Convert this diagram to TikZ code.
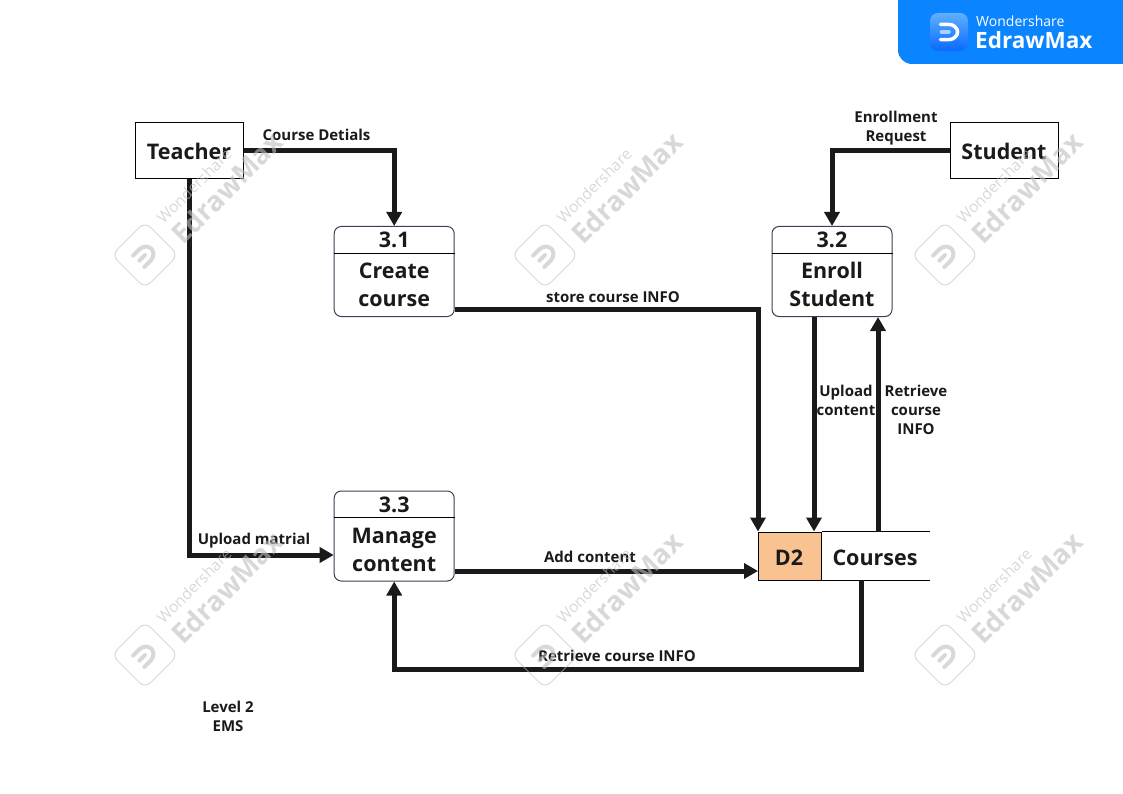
\documentclass[tikz,border=0pt]{standalone}
\usepackage{fontspec}
\setmainfont{Open Sans}
\usetikzlibrary{arrows.meta,positioning}
\definecolor{inkc}{HTML}{1A1A1A}
\definecolor{badgec}{HTML}{0A84FF}
\definecolor{storec}{HTML}{F8C291}
\definecolor{markc}{HTML}{BEBEBE}
\definecolor{edgec}{HTML}{3A3F52}
\newcommand{\dglyph}[2]{%
  \draw[#1, line width=#2, line cap=round] (-9,-8) -- (0,-8) .. controls (5,-8) and (9,-4) .. (9,0) .. controls (9,4) and (5,8) .. (0,8) -- (-9,8);
  \draw[#1, line width=#2, line cap=round, opacity=0.6] (-8,0) -- (0,0);}
\tikzset{
  entity/.style={draw=black, line width=1pt, fill=white, minimum width=108pt, minimum height=56pt, inner sep=0pt, font=\fontsize{21.5}{26}\selectfont\bfseries, text=inkc},
  process/.style={draw=edgec, line width=1pt, rounded corners=7pt, minimum width=120pt, minimum height=90pt, inner sep=0pt},
  ptext/.style={font=\fontsize{21.5}{28}\selectfont\bfseries, text=inkc, align=center, inner sep=0pt},
  flow/.style={line width=5pt, draw=inkc, -{Triangle[width=15pt,length=14pt]}},
  flabel/.style={font=\fontsize{15}{19}\selectfont\bfseries, text=inkc, align=center, inner sep=0pt},
}
\begin{document}
\begin{tikzpicture}[x=1pt,y=-1pt]
  \useasboundingbox (0,0) rectangle (1123,794);

  % badge
  \fill[badgec] (898,0) [rounded corners=14pt] -- (898,64) [sharp corners] -- (1123,64) -- (1123,0) -- cycle;
  \shade[rounded corners=8pt, top color=badgec!65!white, bottom color=blue!20!badgec] (930,13) rectangle (968,51);
  \begin{scope}[shift={(949,32)}, scale=0.95]
    \dglyph{white}{3.5pt}
  \end{scope}
  \node[white, font=\fontsize{14}{16}\selectfont, inner sep=0pt, anchor=west] (brand) at (976,21) {Wondershare};
  \node[white, font=\fontsize{22.5}{26}\selectfont\bfseries, inner sep=0pt, anchor=west] (brandb) at (975,40) {EdrawMax};

  % externals
  \node[entity] (teacher) at (189,151) {Teacher};
  \node[entity] (student) at (1004,151) {Student};

  % processes
  \foreach \nm/\cx/\cy/\tx/\num/\txt in {p31/394.2/271.5/58.5/3.1/Create\\course, p32/832/271.5/58.5/3.2/Enroll\\Student, p33/394.2/536/59.5/3.3/Manage\\content} {
    \node[process] (\nm) at (\cx,\cy) {};
    \draw[line width=1pt] ([yshift=-27pt]\nm.north west) -- ([yshift=-27pt]\nm.north east);
    \node[ptext] (\nm h) at ([yshift=-14pt]\nm.north) {\num};
    \node[ptext] (\nm t) at ([yshift=-\tx pt]\nm.north) {\txt};
  }

  % data store
  \node[draw=black, line width=1pt, fill=storec, minimum width=63pt, minimum height=48pt, inner sep=0pt] (d2) at (790,556) {};
  \node[minimum width=108pt, minimum height=48pt, inner sep=0pt, right=0pt of d2] (courses) {};
  \node[ptext] (d2t) at (789,557.5) {D2};
  \node[ptext] (coursest) at (875,557.5) {Courses};
  \draw[line width=1pt] (courses.north west) -- (courses.north east);
  \draw[line width=1pt] (courses.south west) -- (courses.south east);

  % flows
  \draw[flow] (teacher.east) -| (p31.north);
  \draw[flow] (student.west) -| (p32.north);
  \draw[flow] (teacher.south) |- ([yshift=-19pt]p33.west);
  \draw[flow] ([yshift=7.5pt]p31.south east) -| (d2.north west);
  \draw[flow] ([xshift=-18pt]p32.south) -- ([xshift=-18pt]p32.south |- d2.north);
  \draw[flow] ([xshift=46pt]p32.south |- courses.north) -- ([xshift=46pt]p32.south);
  \draw[flow] ([yshift=-35pt]p33.east) -- ([yshift=-35pt]p33.east -| d2.west);
  \draw[flow] ([xshift=-15pt]courses.south) -- ++(0,89) -| (p33.south);

  % labels
  \node[flabel] (l1) at (316.5,135) {Course Detials};
  \node[flabel] (l2) at (896,128) {Enrollment\\Request};
  \node[flabel] (l3) at (613,297) {store course INFO};
  \node[flabel] (l4) at (846,400) {Upload\\content};
  \node[flabel] (l5) at (916,409.5) {Retrieve\\course\\INFO};
  \node[flabel] (l6) at (254,541) {Upload matrial};
  \node[flabel] (l7) at (590,557) {Add content};
  \node[flabel] (l8) at (617,656) {Retrieve course INFO};
  \node[flabel] (l9) at (228,716) {Level 2\\EMS};

  % watermarks
  \foreach \wx in {0,400,800} {
    \foreach \wy in {0,400} {
      \begin{scope}[shift={(\wx,\wy)}, opacity=0.6]
        \node[markc, rotate=45, font=\fontsize{15.5}{18}\selectfont, inner sep=0pt] (wa\wx\wy) at (194,186) {Wondershare};
        \node[markc, rotate=45, font=\fontsize{27.5}{32}\selectfont\bfseries, inner sep=0pt] (wb\wx\wy) at (227,188) {EdrawMax};
        \begin{scope}[shift={(145,255)}, rotate=45]
          \draw[markc, line width=1pt, rounded corners=8pt] (-23.5,-23.5) rectangle (23.5,23.5);
          \dglyph{markc}{4pt}
        \end{scope}
      \end{scope}
    }
  }
\end{tikzpicture}
\end{document}
